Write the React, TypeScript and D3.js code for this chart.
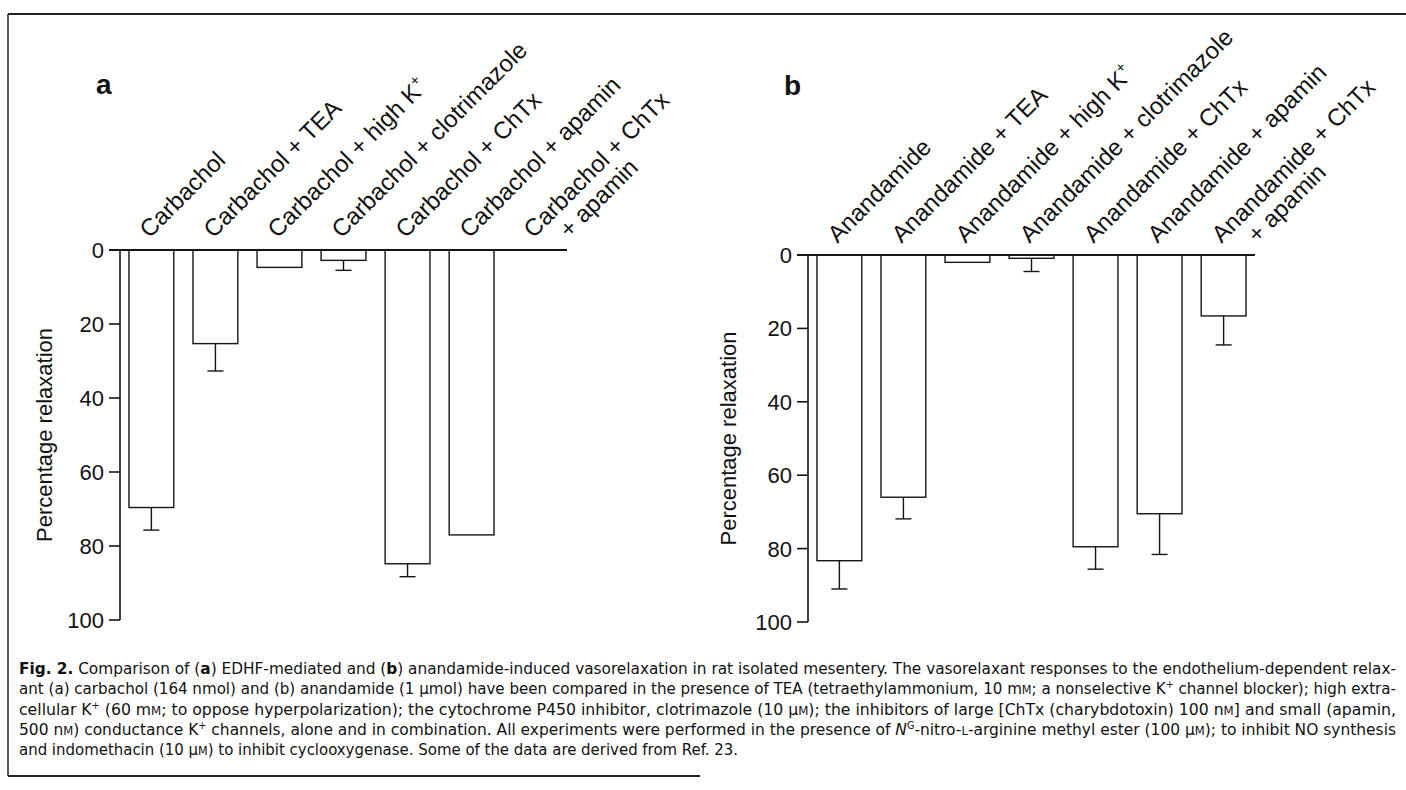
import React from "react";
import * as d3 from "d3";

// ---------- data ----------
const labelsA = [
  "Carbachol",
  "Carbachol + TEA",
  "Carbachol + high K+",
  "Carbachol + clotrimazole",
  "Carbachol + ChTx",
  "Carbachol + apamin",
  "Carbachol + ChTx\n+ apamin",
];
const valuesA = [69.6, 25.3, 4.7, 2.8, 84.8, 77.0, 0];
const semA = [6.1, 7.4, 0, 2.7, 3.5, 0, 0];

const labelsB = [
  "Anandamide",
  "Anandamide + TEA",
  "Anandamide + high K+",
  "Anandamide + clotrimazole",
  "Anandamide + ChTx",
  "Anandamide + apamin",
  "Anandamide + ChTx\n+ apamin",
];
const valuesB = [83.3, 66.0, 2.0, 0.9, 79.5, 70.5, 16.6];
const semB = [7.7, 5.9, 0, 3.6, 6.1, 11.1, 7.9];

const yTicks = [0, 20, 40, 60, 80, 100];
const yTitle = "Percentage relaxation";

type Seg = { t: string; b?: boolean; i?: boolean; sup?: boolean; sc?: boolean };
const captionLines: Seg[][] = [
  [
    { t: "Fig. 2.", b: true },
    { t: " Comparison of (" },
    { t: "a", b: true },
    { t: ") EDHF-mediated and (" },
    { t: "b", b: true },
    {
      t: ") anandamide-induced vasorelaxation in rat isolated mesentery. The vasorelaxant responses to the endothelium-dependent relax-",
    },
  ],
  [
    {
      t: "ant (a) carbachol (164 nmol) and (b) anandamide (1 \u03bcmol) have been compared in the presence of TEA (tetraethylammonium, 10 m",
    },
    { t: "M", sc: true },
    { t: "; a nonselective K" },
    { t: "+", sup: true },
    { t: " channel blocker); high extra-" },
  ],
  [
    { t: "cellular K" },
    { t: "+", sup: true },
    { t: " (60 m" },
    { t: "M", sc: true },
    { t: "; to oppose hyperpolarization); the cytochrome P450 inhibitor, clotrimazole (10 \u03bc" },
    { t: "M", sc: true },
    { t: "); the inhibitors of large [ChTx (charybdotoxin) 100 n" },
    { t: "M", sc: true },
    { t: "] and small (apamin," },
  ],
  [
    { t: "500 n" },
    { t: "M", sc: true },
    { t: ") conductance K" },
    { t: "+", sup: true },
    { t: " channels, alone and in combination. All experiments were performed in the presence of " },
    { t: "N", i: true },
    { t: "G", sup: true },
    { t: "-nitro-" },
    { t: "L", sc: true },
    { t: "-arginine methyl ester (100 \u03bc" },
    { t: "M", sc: true },
    { t: "); to inhibit NO synthesis" },
  ],
  [
    { t: "and indomethacin (10 \u03bc" },
    { t: "M", sc: true },
    { t: ") to inhibit cyclooxygenase. Some of the data are derived from Ref. 23." },
  ],
];

// ---------- layout ----------
const W = 1406;
const H = 790;
const SANS = "'Liberation Sans', Arial, Helvetica, sans-serif";
const NARROW = "'Liberation Sans Narrow', 'DejaVu Sans Condensed', 'Liberation Sans', Arial, sans-serif";
const LABEL_SIZE = 24;

function CatLabel({ text, x, y }: { text: string; x: number; y: number }) {
  const lines = text.split("\n");
  const renderLine = (s: string) => {
    if (s.endsWith("K+")) {
      return (
        <>
          {s.slice(0, -1)}
          <tspan fontSize={LABEL_SIZE * 0.62} dy={-LABEL_SIZE * 0.42}>
            +
          </tspan>
        </>
      );
    }
    return s;
  };
  return (
    <text
      transform={`translate(${x},${y}) rotate(-45)`}
      fontFamily={SANS}
      fontSize={LABEL_SIZE}
      fill="#111"
    >
      <tspan x={0} y={0}>
        {renderLine(lines[0])}
      </tspan>
      {lines[1] && (
        <tspan x={LABEL_SIZE * 1.05} y={LABEL_SIZE * 1.05}>
          {renderLine(lines[1])}
        </tspan>
      )}
    </text>
  );
}

function Panel({
  letter,
  labels,
  values,
  sem,
  axisX,
  zeroY,
  bottomY,
  letterY,
  titleX,
}: {
  letter: string;
  labels: string[];
  values: number[];
  sem: number[];
  axisX: number;
  zeroY: number;
  bottomY: number;
  letterY: number;
  titleX: number;
}) {
  const x = d3
    .scaleBand<number>()
    .domain(d3.range(labels.length))
    .range([axisX, axisX + 447])
    .paddingInner(0.3)
    .paddingOuter(0.14);
  const y = d3.scaleLinear().domain([0, 100]).range([zeroY, bottomY]);
  const bw = x.bandwidth();
  const stroke = "#151515";
  return (
    <g>
      <text x={axisX - 24} y={letterY} fontFamily={SANS} fontWeight="bold" fontSize={28} fill="#111">
        {letter}
      </text>
      {/* y axis title */}
      <text
        transform={`translate(${titleX},${(y(0) + y(100)) / 2}) rotate(-90)`}
        textAnchor="middle"
        fontFamily={SANS}
        fontSize={22}
        fill="#111"
      >
        {yTitle}
      </text>
      {/* axis */}
      <line x1={axisX} x2={axisX} y1={y(0)} y2={y(100)} stroke={stroke} strokeWidth={1.6} />
      {yTicks.map((t) => (
        <g key={t}>
          <line x1={axisX - 11} x2={axisX} y1={y(t)} y2={y(t)} stroke={stroke} strokeWidth={1.6} />
          <text
            x={axisX - 16}
            y={y(t)}
            dy="0.36em"
            textAnchor="end"
            fontFamily={SANS}
            fontSize={22}
            fill="#111"
          >
            {t}
          </text>
        </g>
      ))}
      {/* bars */}
      {values.map((v, i) => {
        const x0 = x(i)!;
        const cx = x0 + bw / 2;
        return (
          <g key={i}>
            {v > 0 && (
              <rect
                x={x0}
                y={y(0)}
                width={bw}
                height={y(v) - y(0)}
                fill="#fff"
                stroke={stroke}
                strokeWidth={1.4}
              />
            )}
            {sem[i] > 0 && (
              <g stroke={stroke} strokeWidth={1.4}>
                <line x1={cx} x2={cx} y1={y(v)} y2={y(v + sem[i])} />
                <line x1={cx - 8} x2={cx + 8} y1={y(v + sem[i])} y2={y(v + sem[i])} />
              </g>
            )}
          </g>
        );
      })}
      {/* zero line */}
      <line x1={axisX - 11} x2={axisX + 447} y1={y(0)} y2={y(0)} stroke={stroke} strokeWidth={2} />
      {labels.map((l, i) => (
        <CatLabel key={i} text={l} x={x(i)! + bw / 2 - 2} y={zeroY - 11} />
      ))}
    </g>
  );
}

function CaptionLine({ segs, y, x, len }: { segs: Seg[]; y: number; x: number; len: number }) {
  const out: React.ReactNode[] = [];
  let shifted = 0;
  segs.forEach((s, k) => {
    let dy = 0;
    if (s.sup) {
      dy = -6 - shifted;
      shifted = -6;
    } else if (shifted !== 0) {
      dy = -shifted;
      shifted = 0;
    }
    out.push(
      <tspan
        key={k}
        dy={dy || undefined}
        fontWeight={s.b ? "bold" : undefined}
        fontStyle={s.i ? "italic" : undefined}
        fontSize={s.sup ? 10 : s.sc ? 12 : undefined}
      >
        {s.t}
      </tspan>
    );
  });
  return (
    <text
      x={x}
      y={y}
      fontFamily={NARROW}
      fontSize={16}
      fill="#111"
      textLength={len}
      lengthAdjust="spacingAndGlyphs"
    >
      {out}
    </text>
  );
}

export default function App() {
  const capX = 19;
  const capRight = 1396;
  const lineLens = [capRight - capX, capRight - capX, capRight - capX, capRight - capX, 738 - capX];
  return (
    <svg
      width={W}
      height={H}
      style={{ position: "absolute", left: 0, top: 0, background: "#fff" }}
    >
      <rect x={0} y={0} width={W} height={H} fill="#fff" />
      {/* frame */}
      <line x1={8} x2={W} y1={14} y2={14} stroke="#222" strokeWidth={2} />
      <line x1={8} x2={8} y1={14} y2={776} stroke="#222" strokeWidth={1.5} />
      <line x1={8} x2={700} y1={776} y2={776} stroke="#222" strokeWidth={1.8} />

      <Panel letter="a" labels={labelsA} values={valuesA} sem={semA} axisX={120} zeroY={250} bottomY={620} letterY={94} titleX={52} />
      <Panel letter="b" labels={labelsB} values={valuesB} sem={semB} axisX={808} zeroY={255} bottomY={622} letterY={95} titleX={736} />

      {captionLines.map((segs, i) => (
        <CaptionLine key={i} segs={segs} x={capX} y={674 + i * 20.3} len={lineLens[i]} />
      ))}
    </svg>
  );
}
